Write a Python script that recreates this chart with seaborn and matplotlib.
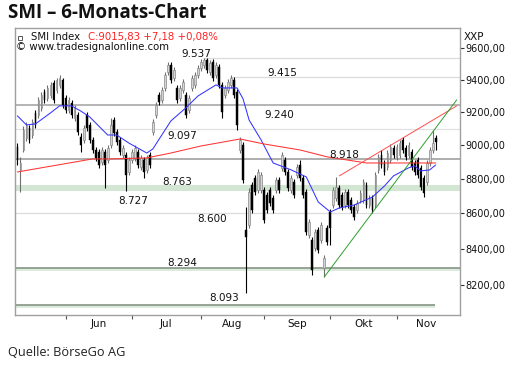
import numpy as np
import pandas as pd
import matplotlib
matplotlib.use("Agg")
import matplotlib.pyplot as plt
from matplotlib.ticker import FixedLocator, NullLocator, NullFormatter
import seaborn as sns

# SMI daily candles, one entry per trading day (mid May .. Nov)
opens = [8988, 8852, 8970, 9042, 9103, 9060, 9194, 9182, 9225, 9323,
         9286, 9305, 9379, 9336, 9367, 9398, 9286, 9212, 9255, 9163,
         9182, 9048, 9030, 9182, 9121, 9030, 8970, 8958, 8899, 8958,
         8911, 9000, 9151, 9078, 9030, 8941, 8941, 8840, 8911, 8923,
         8958, 8870, 8911, 8852, 8941, 9078, 9182, 9305, 9274, 9348,
         9448, 9492, 9410, 9348, 9286, 9336, 9305, 9212, 9348, 9367,
         9429, 9473, 9492, 9524, 9448, 9511, 9429, 9479, 9367, 9305,
         9336, 9367, 9398, 9323, 8970, 9000, 8506, 8534, 8764, 8805,
         8735, 8735, 8735, 8706, 8735, 8689, 8735, 8793, 8864, 8911,
         8840, 8735, 8782, 8822, 8881, 8805, 8723, 8477, 8449, 8404,
         8506, 8449, 8293, 8517, 8608, 8648, 8689, 8747, 8706, 8648,
         8723, 8677, 8637, 8619, 8677, 8677, 8764, 8648, 8689, 8648,
         8852, 8941, 8893, 8870, 8911, 8982, 8929, 8941, 9030, 8982,
         8941, 8958, 8893, 8911, 8864, 8805, 8782, 8893, 8970, 9042]
highs = [9012, 8929, 9115, 9139, 9121, 9157, 9212, 9292, 9323, 9342,
         9367, 9385, 9398, 9410, 9429, 9410, 9305, 9292, 9274, 9243,
         9200, 9072, 9121, 9200, 9139, 9048, 8988, 8976, 8988, 8976,
         9000, 9163, 9169, 9097, 9048, 9000, 8958, 8929, 8976, 9000,
         8976, 8941, 8929, 8941, 8958, 9157, 9261, 9323, 9354, 9448,
         9511, 9511, 9479, 9367, 9367, 9404, 9323, 9305, 9429, 9448,
         9492, 9530, 9537, 9536, 9524, 9530, 9511, 9498, 9385, 9367,
         9404, 9429, 9417, 9342, 9048, 9018, 8637, 8747, 8782, 8822,
         8858, 8840, 8752, 8723, 8752, 8706, 8811, 8811, 8958, 8929,
         8858, 8822, 8799, 8887, 8911, 8822, 8741, 8568, 8466, 8511,
         8523, 8551, 8365, 8534, 8625, 8752, 8811, 8764, 8723, 8741,
         8741, 8694, 8654, 8677, 8735, 8799, 8782, 8706, 8706, 8840,
         8947, 8970, 8911, 8970, 9006, 9000, 9006, 9030, 9048, 9000,
         9018, 8976, 8911, 8929, 8881, 8822, 8911, 8988, 9090, 9060]
lows = [8881, 8723, 8958, 9024, 9012, 9042, 9103, 9163, 9206, 9255,
        9268, 9286, 9255, 9317, 9348, 9225, 9194, 9194, 9163, 9145,
        9060, 8958, 9012, 9084, 9012, 8952, 8905, 8864, 8881, 8747,
        8893, 8982, 9054, 9000, 8941, 8923, 8729, 8822, 8893, 8905,
        8864, 8852, 8805, 8834, 8864, 9060, 9163, 9243, 9255, 9329,
        9429, 9379, 9392, 9255, 9268, 9317, 9163, 9194, 9329, 9348,
        9410, 9454, 9473, 9442, 9429, 9392, 9410, 9348, 9163, 9286,
        9317, 9348, 9286, 9090, 8952, 8776, 8157, 8517, 8602, 8706,
        8717, 8717, 8545, 8602, 8642, 8602, 8717, 8717, 8846, 8822,
        8729, 8717, 8689, 8805, 8787, 8689, 8477, 8460, 8255, 8388,
        8376, 8432, 8244, 8421, 8421, 8631, 8671, 8631, 8619, 8631,
        8631, 8602, 8562, 8602, 8660, 8660, 8631, 8631, 8602, 8631,
        8834, 8864, 8822, 8852, 8893, 8923, 8911, 8923, 8952, 8911,
        8923, 8852, 8822, 8805, 8735, 8694, 8764, 8875, 8952, 8970]
closes = [8911, 8893, 9090, 9121, 9030, 9139, 9121, 9274, 9305, 9274,
          9348, 9367, 9274, 9398, 9410, 9243, 9212, 9274, 9182, 9225,
          9078, 9000, 9103, 9103, 9030, 8970, 8923, 8881, 8970, 8881,
          8982, 9121, 9072, 9018, 8958, 8982, 8822, 8911, 8958, 8982,
          8881, 8923, 8840, 8923, 8881, 9139, 9243, 9261, 9336, 9429,
          9492, 9398, 9461, 9274, 9348, 9385, 9182, 9286, 9410, 9429,
          9473, 9511, 9524, 9461, 9505, 9410, 9492, 9367, 9200, 9348,
          9385, 9410, 9305, 9121, 9030, 8793, 8466, 8723, 8619, 8723,
          8840, 8822, 8562, 8619, 8660, 8619, 8793, 8735, 8941, 8840,
          8747, 8805, 8706, 8870, 8805, 8706, 8494, 8551, 8282, 8494,
          8393, 8534, 8349, 8438, 8517, 8735, 8752, 8648, 8637, 8723,
          8648, 8619, 8579, 8660, 8717, 8782, 8648, 8689, 8619, 8822,
          8929, 8881, 8840, 8952, 8988, 8941, 8988, 9012, 8970, 8929,
          9000, 8870, 8840, 8822, 8752, 8717, 8893, 8970, 9009, 9016]

# moving averages (trading day index, value)
ma_short_idx = [0, 3, 6, 11, 14, 18, 21, 24, 30, 33, 37, 43, 45, 48, 51, 56, 60,
                66, 68, 73, 75, 77, 81, 85, 91, 96, 100, 104, 107, 112, 118, 122,
                125, 130, 132, 134, 137, 139]
ma_short_val = [9176, 9121, 9127, 9194, 9237, 9237, 9206, 9170, 9060, 9060, 9012,
                8952, 8976, 9060, 9145, 9225, 9298, 9367, 9348, 9348, 9280, 9151,
                9030, 8893, 8852, 8811, 8665, 8608, 8631, 8648, 8694, 8758, 8817,
                8864, 8876, 8846, 8852, 8881]
ma_long_idx = [0, 25, 31, 43, 51, 61, 74, 82, 94, 103, 116, 139]
ma_long_val = [8840, 8917, 8917, 8923, 8952, 8994, 9036, 9006, 8970, 8929, 8893, 8893]

# trend lines
trend_red_idx = [107, 146]
trend_red_val = [8817, 9237]
trend_green_idx = [102, 146]
trend_green_val = [8244, 9274]

# horizontal marks
levels = [9537, 9415, 9240, 9097, 8918, 8763, 8727, 8600, 8294, 8093]
level_labels = ["9.537", "9.415", "9.240", "9.097", "8.918", "8.763", "8.727",
                "8.600", "8.294", "8.093"]

months = ["Jun", "Jul", "Aug", "Sep", "Okt", "Nov"]
month_start = [16, 38, 61, 82, 104, 126]
y_ticks = [8200, 8400, 8600, 8800, 9000, 9200, 9400, 9600]

# ------------------------------------------------------------------ figure
sns.set_style("white")
plt.rcParams["font.family"] = ["DejaVu Sans"]

W, H = 529, 365
fig = plt.figure(figsize=(W / 100, H / 100), dpi=100)
ax = fig.add_axes([15 / W, 1 - 315 / H, 445 / W, 287 / H])
ax.set_yscale("log")
ax.set_xlim(-0.8, 147.1)
ax.set_ylim(8038, 9728)

# level lines: (colour, width, x from, x to)
level_style = {
    9537: ("#dcdcdc", 0.9, 61.6, 147.1),
    9415: ("#dcdcdc", 0.9, 70.6, 147.1),
    9240: ("#a8a8a8", 1.2, -0.8, 147.1),
    9097: ("#e0e0e0", 0.9, -0.8, 147.1),
    8918: ("#a0a0a0", 1.2, -0.8, 147.1),
    8600: ("#dcdcdc", 0.9, -0.8, 147.1),
    8294: ("#7d8c7d", 1.1, -0.8, 147.1),
    8093: ("#7d8c7d", 1.1, -0.8, 138.8),
}
for lvl, (col, lw, x0, x1) in level_style.items():
    ax.hlines(lvl, x0, x1, colors=col, lw=lw, zorder=1)
ax.axhspan(8727, 8763, color="#d3e6d3", lw=0, zorder=0.5)
ax.fill_between([-0.8, 147.1], 8276, 8294, color="#dcebdc", lw=0, zorder=0.5)
ax.fill_between([-0.8, 138.8], 8076, 8093, color="#dcebdc", lw=0, zorder=0.5)

# level labels, offset in pixels from their line
label_pos = {
    "9.537": (59.3, 4), "9.415": (87.9, 4), "9.240": (86.9, -9.5),
    "9.097": (54.7, -7), "8.918": (108.5, 4), "8.763": (53, 3),
    "8.727": (38.4, -10), "8.600": (64.6, -6), "8.294": (54.7, 5),
    "8.093": (68.6, 7),
}
for lvl, lab in zip(levels, level_labels):
    x, dy = label_pos[lab]
    ax.annotate(lab, (x, lvl), xytext=(0, dy), textcoords="offset pixels",
                ha="center", va="center", fontsize=7.5, color="#111111", zorder=6)

# candles
df = pd.DataFrame({"open": opens, "high": highs, "low": lows, "close": closes})
df["idx"] = np.arange(len(df))
up = df["close"] >= df["open"]
ax.vlines(df["idx"][up], df["low"][up], df["high"][up], colors="#707070", lw=0.8, zorder=3)
ax.vlines(df["idx"][~up], df["low"][~up], df["high"][~up], colors="black", lw=0.8, zorder=3)
ax.bar(df["idx"][up], (df["close"] - df["open"])[up], bottom=df["open"][up], width=0.6,
       color="#d4d4d4", edgecolor="#8a8a8a", lw=0.5, zorder=4)
ax.bar(df["idx"][~up], (df["open"] - df["close"])[~up], bottom=df["close"][~up], width=0.6,
       color="black", edgecolor="black", lw=0.3, zorder=4)

# averages and trend lines
sns.lineplot(x=ma_short_idx, y=ma_short_val, ax=ax, color="#3333ff", lw=0.75, zorder=5)
sns.lineplot(x=ma_long_idx, y=ma_long_val, ax=ax, color="#ff3333", lw=0.75, zorder=5)
sns.lineplot(x=trend_red_idx, y=trend_red_val, ax=ax, color="#ff4d4d", lw=0.7, zorder=5)
sns.lineplot(x=trend_green_idx, y=trend_green_val, ax=ax, color="#2ca02c", lw=0.7, zorder=5)

# axes cosmetics
for s in ax.spines.values():
    s.set_color("#a0a0a0")
    s.set_linewidth(1.0)
ax.yaxis.tick_right()
ax.yaxis.set_major_locator(FixedLocator(y_ticks))
ax.yaxis.set_minor_locator(NullLocator())
ax.set_yticklabels([f"{v:.2f}".replace(".", ",") for v in y_ticks])
ax.tick_params(axis="y", which="major", length=3, width=0.8, color="#333333",
               labelsize=7, labelcolor="#111111", pad=1, right=True, left=False)

label_x = [(a + b) / 2 for a, b in zip(month_start, month_start[1:] + [month_start[-1] + 20])]
ax.xaxis.set_major_locator(FixedLocator(label_x))
ax.set_xticklabels(months)
ax.xaxis.set_minor_locator(FixedLocator(month_start))
ax.xaxis.set_minor_formatter(NullFormatter())
ax.tick_params(axis="x", which="major", length=0, labelsize=7.5, labelcolor="#111111", pad=3)
ax.tick_params(axis="x", which="minor", length=3, width=0.8, color="#555555", bottom=True)
ax.set_xlabel("")
ax.set_ylabel("")

# header inside chart
ax.plot([0.012], [0.965], transform=ax.transAxes, marker="s", ms=3.5, mfc="white",
        mec="#555555", mew=0.7, zorder=7)
fig.text(31 / W, 1 - 37 / H, "SMI Index", fontsize=7.3, color="#111111", va="center")
fig.text(88 / W, 1 - 37 / H, "C:9015,83 +7,18 +0,08%", fontsize=7.3, color="#ff2020", va="center")
fig.text(16 / W, 1 - 47 / H, "\u00a9 www.tradesignalonline.com", fontsize=7.3, color="#111111", va="center")
fig.text(464 / W, 1 - 37 / H, "XXP", fontsize=7.5, color="#111111", va="center")

fig.text(8 / W, 1 - 13 / H, "SMI \u2013 6-Monats-Chart", fontsize=13.5, fontweight="bold",
         family=["Open Sans", "DejaVu Sans"], color="#111111", va="center")
fig.text(8 / W, 1 - 352 / H, "Quelle: B\u00f6rseGo AG", fontsize=9.2,
         family=["Open Sans", "DejaVu Sans"], color="#222222", va="center")

fig.savefig("out.png", dpi=100)
